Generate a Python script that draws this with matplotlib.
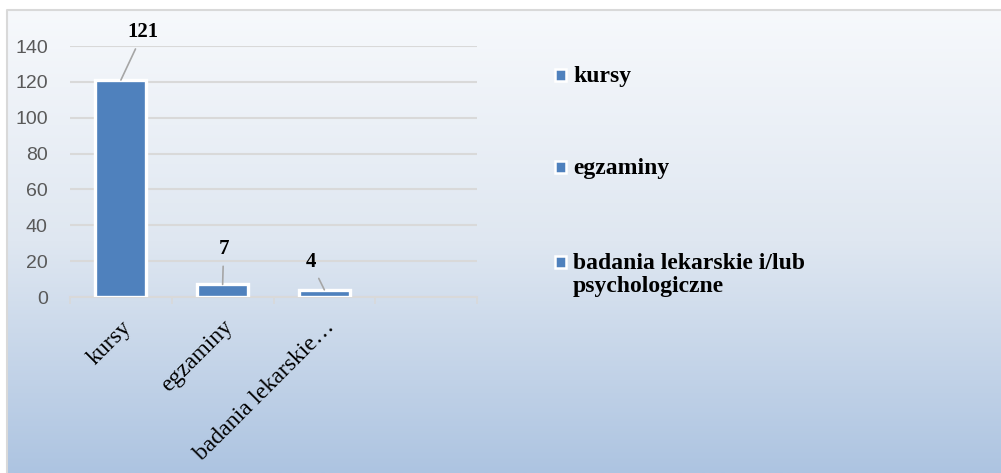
import numpy as np
import matplotlib.pyplot as plt
from matplotlib.colors import LinearSegmentedColormap
from matplotlib.patches import Rectangle

# Dane
kategorie = ['kursy', 'egzaminy', 'badania lekarskie…', '']
wartosci = [121, 7, 4]
legenda = ['kursy', 'egzaminy', 'badania lekarskie i/lub\npsychologiczne']
y_ticks = [0, 20, 40, 60, 80, 100, 120, 140]

kolor = '#4f81bd'
W, H = 1001, 473

fig = plt.figure(figsize=(W / 100, H / 100), dpi=100, facecolor='white')

# Tlo z gradientem
bg = fig.add_axes([0, 0, 1, 1], zorder=-10)
cmap = LinearSegmentedColormap.from_list('bg', ['#f7f9fc', '#dfe7f1', '#adc4e1'])
grad = np.linspace(0, 1, 256).reshape(-1, 1)
bg.imshow(grad, aspect='auto', cmap=cmap, extent=[7 / W, 1, 0, 1 - 10 / H], origin='upper')
bg.plot([7 / W, 7 / W, 1], [0, 1 - 10 / H, 1 - 10 / H], color='#d9d9d9', lw=1.5)
bg.set_xlim(0, 1)
bg.set_ylim(0, 1)
bg.axis('off')

# Wykres
ax = fig.add_axes([70 / W, 1 - 297 / H, 407 / W, 251 / H])
ax.set_facecolor('none')
x = np.arange(len(wartosci))
bars = ax.bar(x, wartosci, width=0.5, color=kolor, edgecolor='white', linewidth=2.4, zorder=3)

ax.set_xlim(-0.5, 3.5)
ax.set_ylim(0, 140)
ax.set_yticks(y_ticks)
ax.yaxis.grid(True, color='#d9d9d9', linewidth=1.5, zorder=0)
ax.tick_params(axis='y', length=0, pad=16, labelsize=14, labelcolor='#595959')
for lab in ax.get_yticklabels():
    lab.set_fontfamily('Liberation Sans')

ax.set_xticks(np.arange(len(kategorie)))
ax.set_xticklabels(kategorie, rotation=45, ha='right', rotation_mode='anchor',
                   fontsize=17, family='Liberation Serif')
ax.tick_params(axis='x', length=0, pad=14)
ax.set_xticks(np.arange(-0.5, 4, 1), minor=True)
ax.tick_params(axis='x', which='minor', length=5, color='#d9d9d9', width=1.2)
for s in ['top', 'right', 'left']:
    ax.spines[s].set_visible(False)
ax.spines['bottom'].set_color('#d9d9d9')
ax.spines['bottom'].set_linewidth(1.5)

# Etykiety danych z liniami odniesienia
offsets = [(0.22, 21), (0.01, 14), (-0.135, 10)]
for xi, v, (dx, dy) in zip(x, wartosci, offsets):
    ax.annotate(str(v), xy=(xi, v), xytext=(xi + dx, v + dy),
                ha='center', va='bottom', fontsize=15, fontweight='bold',
                family='Liberation Serif',
                arrowprops=dict(arrowstyle='-', color='#a6a6a6', lw=1.2,
                                shrinkA=3, shrinkB=0))

# Legenda (recznie, wyrownana do pierwszej linii)
leg_y = [75, 167, 262]
for lab, yy in zip(legenda, leg_y):
    fig.patches.append(Rectangle((555 / W, 1 - (yy + 6) / H), 11 / W, 12 / H,
                                 facecolor=kolor, edgecolor='white', linewidth=1.8,
                                 transform=fig.transFigure, figure=fig))
    fig.text(573 / W, 1 - (yy - 9) / H, lab, ha='left', va='top',
             fontsize=17, fontweight='bold', family='Liberation Serif',
             linespacing=1.15)

fig.savefig('out.png', dpi=100)
